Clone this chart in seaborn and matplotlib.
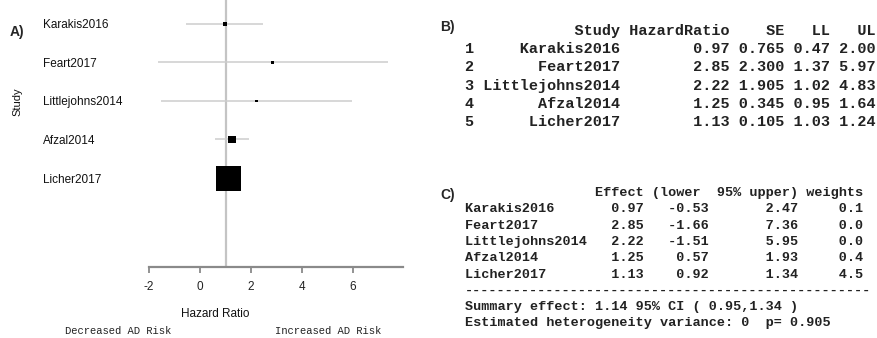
#!/usr/bin/env python3
"""
Forest plot (A) + R 出力テーブル (B, C) の再現
"""

import numpy as np
import pandas as pd
import matplotlib
matplotlib.use('Agg')
import matplotlib.pyplot as plt
import seaborn as sns

# ---- データ ----
studies = ['Karakis2016', 'Feart2017', 'Littlejohns2014', 'Afzal2014', 'Licher2017']
hazard_ratio = [0.97, 2.85, 2.22, 1.25, 1.13]
se = [0.765, 2.300, 1.905, 0.345, 0.105]
ll = [0.47, 1.37, 1.02, 0.95, 1.03]
ul = [2.00, 5.97, 4.83, 1.64, 1.24]

# meta 出力 (C)
effect = [0.97, 2.85, 2.22, 1.25, 1.13]
lower = [-0.53, -1.66, -1.51, 0.57, 0.92]
upper = [2.47, 7.36, 5.95, 1.93, 1.34]
weights = [0.1, 0.0, 0.0, 0.4, 4.5]

summary_effect = 1.14
summary_ci = (0.95, 1.34)
tau2 = 0
p_het = 0.905

x_ticks = [-2, 0, 2, 4, 6]

W, H = 877, 338

sns.set_theme(style='white')
plt.rcParams['font.family'] = ['Liberation Sans', 'DejaVu Sans']


def fx(px):
    return px / W


def fy(py):
    return 1 - py / H


df = pd.DataFrame({
    'Study': studies,
    'Effect': effect,
    'lower': lower,
    'upper': upper,
    'SE': se,
})
# 正方形の面積は逆分散に比例
df['inv_var'] = 1 / df['SE'] ** 2

fig = plt.figure(figsize=(W / 100, H / 100), dpi=100)

# ---- A) forest plot ----
ax = fig.add_axes([fx(149), fy(267), fx(403) - fx(149), 267 / H])

ax.axvline(1, color='#c4c4c4', lw=1.6, zorder=1)
sns.scatterplot(data=df, x='Effect', y='Study', size='inv_var', sizes=(3, 324),
                marker='s', color='black', linewidth=0, legend=False, ax=ax, zorder=3)
ax.hlines(df['Study'], df['lower'], df['upper'], color='#cdcdcd', lw=1.1, zorder=2)

ax.set_xlim(-2, 7.96)
ax.set_ylim(6.31, -0.62)
ax.set_xticks(x_ticks)
ax.set_xticklabels([str(t) for t in x_ticks])

for s in ['top', 'right', 'left']:
    ax.spines[s].set_visible(False)
ax.spines['bottom'].set_color('#8a8a8a')
ax.spines['bottom'].set_linewidth(1.6)

ax.tick_params(axis='x', direction='out', length=4, width=1.3, color='#8a8a8a',
               labelsize=8.5, labelcolor='#222222', pad=6, bottom=True)
ax.tick_params(axis='y', length=0, labelsize=8.5, labelcolor='#111111', pad=76)
for lab in ax.get_yticklabels():
    lab.set_ha('left')

ax.set_xlabel('Hazard Ratio', fontsize=8.5, color='#111111')
ax.xaxis.set_label_coords((215 - 149) / 254, -47 / 267)
ax.xaxis.label.set_va('center')
ax.set_ylabel('')

fig.text(fx(17), fy(102), 'Study', rotation=90, fontsize=8, color='#111111',
         ha='center', va='center')
fig.text(fx(10), fy(32), 'A)', fontsize=10, fontweight='bold', ha='left', va='center')

mono = dict(family=['Liberation Mono', 'DejaVu Sans Mono'], color='#222222')
fig.text(fx(65), fy(331), 'Decreased AD Risk', fontsize=7.6, ha='left', va='center', **mono)
fig.text(fx(275), fy(331), 'Increased AD Risk', fontsize=7.6, ha='left', va='center', **mono)

# ---- B) データフレーム出力 ----
fig.text(fx(440), fy(27), 'B)', fontsize=10, fontweight='bold', ha='left', va='center')

b_lines = ['  ' + 'Study'.rjust(15) + ' HazardRatio' + '    SE' + '   LL' + '   UL']
for i in range(len(studies)):
    b_lines.append(f"{i + 1} {studies[i]:>15} {hazard_ratio[i]:>11.2f} "
                   f"{se[i]:5.3f} {ll[i]:4.2f} {ul[i]:4.2f}")
for k, line in enumerate(b_lines):
    fig.text(fx(465), fy(30.7 + 18.3 * k), line, fontsize=10.9, fontweight='bold',
             ha='left', va='center', **mono)

# ---- C) meta 出力 ----
fig.text(fx(440), fy(195), 'C)', fontsize=10, fontweight='bold', ha='left', va='center')

c_lines = [' ' * 16 + 'Effect (lower  95% upper) weights']
for i in range(len(studies)):
    c_lines.append(f"{studies[i]:<16}{effect[i]:6.2f}{lower[i]:8.2f}"
                   f"{upper[i]:11.2f}{weights[i]:8.1f}")
c_lines.append('-' * 50)
c_lines.append(f"Summary effect: {summary_effect:.2f} 95% CI ( {summary_ci[0]:.2f},{summary_ci[1]:.2f} )")
c_lines.append(f"Estimated heterogeneity variance: {tau2}  p= {p_het:.3f}")
for k, line in enumerate(c_lines):
    fig.text(fx(465), fy(193 + 16.3 * k), line, fontsize=9.7, fontweight='bold',
             ha='left', va='center', **mono)

fig.savefig('out.png', dpi=100)
